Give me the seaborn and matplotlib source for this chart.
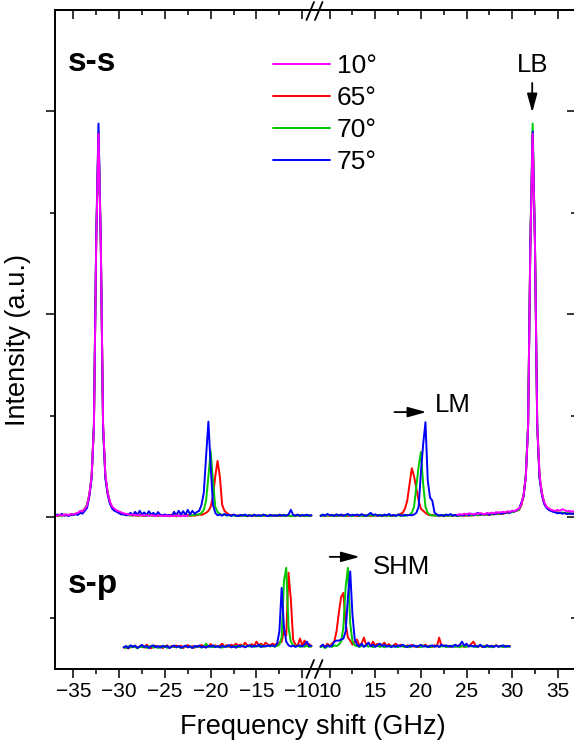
import numpy as np
import matplotlib
matplotlib.use("Agg")
import matplotlib.pyplot as plt
import seaborn as sns
from matplotlib.lines import Line2D
from matplotlib.ticker import FixedLocator

# ---------------------------------------------------------------------------
# Brillouin spectra, intensity in arbitrary units (s-s baseline at 0).
# Channels are 0.25 GHz apart; each row below covers 2 GHz (8 channels).
# ---------------------------------------------------------------------------
STEP = 0.25
ss_left_start, ss_right_start = -37.0, 9.0      # s-s: -37 ... -9 and 9 ... 37 GHz
sp_left_start, sp_right_start = -29.5, 9.0      # s-p: -29.5 ... -9 and 9 ... 29.75 GHz
m10_left_start, m10_right_start = -37.0, 24.0   # 10 deg run only covers the LB region

angles = ["10°", "65°", "70°", "75°"]
colors = {"10°": "#ff00ff", "65°": "#ff0000", "70°": "#00c800", "75°": "#0000ff"}

# ---- s-s, anti-Stokes side (negative shift) ----
ss_left_65 = [
    0.008, 0.004, 0.010, 0.006, 0.012, 0.007, 0.010, 0.013,   # -37
    0.011, 0.015, 0.018, 0.025, 0.030, 0.040, 0.060, 0.110,   # -35
    0.200, 0.450, 1.350, 1.890, 1.350, 0.450, 0.200, 0.120,   # -33
    0.070, 0.045, 0.035, 0.030, 0.022, 0.018, 0.012, 0.010,   # -31
    0.008, 0.012, 0.006, 0.009, 0.005, 0.011, 0.007, 0.004,   # -29
    0.009, 0.006, 0.012, 0.005, 0.008, 0.004, 0.010, 0.006,   # -27
    0.004, 0.009, 0.005, 0.011, 0.006, 0.003, 0.008, 0.005,   # -25
    0.007, 0.004, 0.010, 0.005, 0.008, 0.006, 0.009, 0.012,   # -23
    0.010, 0.015, 0.020, 0.030, 0.050, 0.100, 0.200, 0.276,   # -21
    0.200, 0.060, 0.030, 0.020, 0.012, 0.008, 0.010, 0.005,   # -19
    0.008, 0.004, 0.010, 0.006, 0.003, 0.009, 0.005, 0.007,   # -17
    0.004, 0.008, 0.005, 0.010, 0.006, 0.004, 0.009, 0.006,   # -15
    0.005, 0.008, 0.004, 0.007, 0.010, 0.005, 0.008, 0.004,   # -13
    0.007, 0.005, 0.009, 0.004, 0.008, 0.006, 0.010, 0.005,   # -11
    0.007]                                                     # -9
ss_left_70 = [
    0.006, 0.010, 0.005, 0.009, 0.007, 0.012, 0.008, 0.011,
    0.014, 0.012, 0.020, 0.022, 0.028, 0.040, 0.060, 0.110,
    0.200, 0.460, 1.360, 1.900, 1.340, 0.440, 0.200, 0.120,
    0.070, 0.046, 0.033, 0.028, 0.020, 0.016, 0.013, 0.009,
    0.010, 0.006, 0.011, 0.007, 0.009, 0.005, 0.010, 0.006,
    0.005, 0.010, 0.007, 0.004, 0.011, 0.006, 0.008, 0.005,
    0.009, 0.005, 0.007, 0.004, 0.010, 0.006, 0.005, 0.009,
    0.006, 0.008, 0.005, 0.009, 0.007, 0.010, 0.012, 0.012,
    0.020, 0.035, 0.080, 0.200, 0.325, 0.180, 0.050, 0.025,
    0.015, 0.010, 0.012, 0.006, 0.009, 0.005, 0.008, 0.004,
    0.007, 0.005, 0.009, 0.004, 0.006, 0.010, 0.005, 0.008,
    0.006, 0.004, 0.008, 0.005, 0.009, 0.006, 0.004, 0.007,
    0.009, 0.005, 0.006, 0.010, 0.004, 0.008, 0.006, 0.005,
    0.004, 0.008, 0.006, 0.009, 0.005, 0.007, 0.004, 0.008,
    0.006]
ss_left_75 = [
    0.005, 0.012, 0.008, 0.015, 0.006, 0.010, 0.004, 0.012,
    0.009, 0.014, 0.010, 0.020, 0.016, 0.030, 0.045, 0.100,
    0.190, 0.450, 1.380, 1.940, 1.360, 0.440, 0.190, 0.110,
    0.065, 0.040, 0.030, 0.025, 0.018, 0.012, 0.015, 0.008,
    0.012, 0.020, 0.008, 0.025, 0.010, 0.030, 0.012, 0.022,
    0.009, 0.028, 0.012, 0.020, 0.006, 0.024, 0.010, 0.008,
    0.012, 0.006, 0.010, 0.004, 0.025, 0.008, 0.030, 0.012,
    0.028, 0.010, 0.035, 0.012, 0.030, 0.015, 0.025, 0.030,
    0.060, 0.120, 0.300, 0.470, 0.250, 0.060, 0.020, 0.008,
    0.012, 0.006, 0.015, 0.008, 0.010, 0.005, 0.012, 0.007,
    0.004, 0.010, 0.006, 0.012, 0.005, 0.008, 0.004, 0.011,
    0.006, 0.009, 0.005, 0.012, 0.007, 0.004, 0.010, 0.006,
    0.008, 0.005, 0.011, 0.006, 0.009, 0.006, 0.012, 0.035,
    0.010, 0.006, 0.012, 0.005, 0.009, 0.007, 0.011, 0.006,
    0.008]
ss_left_10 = [
    0.008, 0.006, 0.011, 0.007, 0.010, 0.012, 0.009, 0.014,
    0.012, 0.017, 0.020, 0.030, 0.026, 0.040, 0.055, 0.110,
    0.200, 0.450, 1.350, 1.890, 1.350, 0.460, 0.210, 0.120,
    0.075, 0.050, 0.040, 0.032, 0.027, 0.022, 0.018, 0.015,
    0.013, 0.010, 0.012, 0.008, 0.010, 0.007, 0.009, 0.006,
    0.008, 0.005, 0.009, 0.006, 0.004, 0.008, 0.005, 0.007,
    0.004, 0.007, 0.003, 0.006, 0.004, 0.008, 0.005, 0.003,
    0.006, 0.004, 0.005]

# ---- s-s, Stokes side (positive shift) ----
ss_right_65 = [
    0.006, 0.010, 0.004, 0.008, 0.005, 0.009, 0.006, 0.004,   # 9
    0.008, 0.005, 0.010, 0.006, 0.004, 0.009, 0.005, 0.007,   # 11
    0.004, 0.008, 0.006, 0.010, 0.005, 0.007, 0.004, 0.009,   # 13
    0.006, 0.005, 0.009, 0.004, 0.008, 0.006, 0.010, 0.005,   # 15
    0.007, 0.006, 0.010, 0.015, 0.020, 0.040, 0.080, 0.160,   # 17
    0.240, 0.200, 0.140, 0.080, 0.040, 0.030, 0.020, 0.012,   # 19
    0.008, 0.010, 0.006, 0.009, 0.005, 0.008, 0.004, 0.007,   # 21
    0.006, 0.009, 0.005, 0.008, 0.010, 0.006, 0.009, 0.005,   # 23
    0.008, 0.006, 0.010, 0.007, 0.012, 0.008, 0.010, 0.014,   # 25
    0.010, 0.013, 0.009, 0.015, 0.012, 0.016, 0.013, 0.018,   # 27
    0.015, 0.020, 0.018, 0.022, 0.025, 0.028, 0.030, 0.035,   # 29
    0.055, 0.100, 0.200, 0.450, 1.350, 1.880, 1.350, 0.450,   # 31
    0.200, 0.120, 0.070, 0.050, 0.040, 0.032, 0.028, 0.025,   # 33
    0.022, 0.020, 0.018, 0.020, 0.016, 0.018, 0.015, 0.017,   # 35
    0.015]                                                     # 37
ss_right_70 = [
    0.008, 0.005, 0.009, 0.006, 0.010, 0.004, 0.008, 0.006,
    0.005, 0.009, 0.006, 0.004, 0.010, 0.007, 0.005, 0.008,
    0.009, 0.005, 0.007, 0.004, 0.008, 0.006, 0.010, 0.005,
    0.007, 0.010, 0.005, 0.008, 0.004, 0.009, 0.006, 0.005,
    0.008, 0.005, 0.009, 0.006, 0.008, 0.005, 0.009, 0.010,
    0.020, 0.050, 0.150, 0.250, 0.320, 0.160, 0.050, 0.020,
    0.010, 0.006, 0.009, 0.005, 0.008, 0.006, 0.010, 0.005,
    0.008, 0.005, 0.009, 0.007, 0.004, 0.008, 0.006, 0.010,
    0.007, 0.011, 0.006, 0.009, 0.012, 0.008, 0.013, 0.010,
    0.014, 0.011, 0.016, 0.012, 0.015, 0.018, 0.014, 0.020,
    0.017, 0.022, 0.020, 0.025, 0.023, 0.028, 0.032, 0.036,
    0.060, 0.110, 0.210, 0.460, 1.380, 1.940, 1.370, 0.460,
    0.200, 0.120, 0.070, 0.048, 0.040, 0.033, 0.027, 0.024,
    0.021, 0.019, 0.022, 0.018, 0.020, 0.016, 0.018, 0.015,
    0.016]
ss_right_75 = [
    0.004, 0.012, 0.006, 0.015, 0.008, 0.010, 0.005, 0.013,
    0.007, 0.012, 0.005, 0.010, 0.015, 0.006, 0.011, 0.008,
    0.012, 0.006, 0.014, 0.008, 0.005, 0.012, 0.020, 0.009,
    0.013, 0.006, 0.010, 0.005, 0.012, 0.007, 0.015, 0.006,
    0.010, 0.005, 0.012, 0.008, 0.006, 0.011, 0.007, 0.010,
    0.008, 0.012, 0.020, 0.050, 0.220, 0.360, 0.467, 0.180,
    0.095, 0.080, 0.020, 0.012, 0.006, 0.010, 0.005, 0.012,
    0.008, 0.014, 0.006, 0.010, 0.005, 0.012, 0.007, 0.010,
    0.014, 0.008, 0.016, 0.010, 0.012, 0.020, 0.011, 0.015,
    0.012, 0.018, 0.010, 0.020, 0.014, 0.017, 0.022, 0.015,
    0.020, 0.018, 0.025, 0.020, 0.030, 0.026, 0.035, 0.040,
    0.070, 0.100, 0.200, 0.450, 1.360, 1.900, 1.350, 0.450,
    0.190, 0.110, 0.065, 0.045, 0.035, 0.030, 0.025, 0.022,
    0.018, 0.020, 0.016, 0.019, 0.014, 0.017, 0.015, 0.016,
    0.014]
ss_right_10 = [
    0.010, 0.014, 0.011, 0.016,                                # 24
    0.012, 0.018, 0.014, 0.012, 0.017, 0.014, 0.019, 0.016,   # 25
    0.014, 0.019, 0.017, 0.021, 0.018, 0.024, 0.020, 0.023,   # 27
    0.025, 0.022, 0.028, 0.025, 0.031, 0.029, 0.035, 0.042,   # 29
    0.060, 0.110, 0.200, 0.450, 1.350, 1.890, 1.350, 0.460,   # 31
    0.210, 0.120, 0.075, 0.052, 0.042, 0.036, 0.032, 0.030,   # 33
    0.035, 0.030, 0.038, 0.033, 0.028, 0.030, 0.026, 0.028,   # 35
    0.025]                                                     # 37

# ---- s-p (intensities relative to their own baseline) ----
sp_left_65 = [
    0.000, 0.005, -0.004, 0.008, 0.002, 0.010, -0.002, 0.006,   # -29.5
    0.012, 0.000, 0.015, 0.004, -0.003, 0.006, 0.010, 0.002,    # -27.5
    0.008, -0.002, 0.005, 0.012, 0.000, 0.009, 0.003, 0.011,    # -25.5
    0.004, 0.010, -0.002, 0.007, 0.013, 0.002, 0.008, 0.000,    # -23.5
    0.009, 0.004, 0.014, 0.002, 0.010, 0.006, 0.018, 0.003,     # -21.5
    0.012, 0.005, 0.010, 0.020, 0.006, 0.013, 0.004, 0.015,     # -19.5
    0.008, 0.020, 0.010, 0.016, 0.006, 0.025, 0.012, 0.010,     # -17.5
    0.018, 0.008, 0.030, 0.012, 0.020, 0.010, 0.025, 0.015,     # -15.5
    0.012, 0.020, 0.015, 0.018, 0.025, 0.030, 0.085, 0.060,     # -13.5
    0.370, 0.240, 0.040, 0.015, 0.010, 0.045, 0.012, 0.035,     # -11.5
    0.010, 0.018, 0.006]                                        # -9.5
sp_left_70 = [
    0.004, -0.002, 0.007, 0.001, 0.009, 0.003, -0.003, 0.006,
    0.002, 0.008, -0.001, 0.005, 0.010, 0.000, 0.006, -0.002,
    0.007, 0.002, 0.009, -0.001, 0.005, 0.003, 0.008, 0.001,
    0.006, -0.002, 0.004, 0.009, 0.002, 0.007, 0.000, 0.005,
    0.003, 0.008, 0.000, 0.006, 0.020, 0.004, 0.007, 0.002,
    0.009, 0.003, 0.006, 0.000, 0.008, 0.004, 0.010, 0.002,
    0.005, 0.009, 0.003, 0.007, 0.012, 0.004, 0.008, 0.006,
    0.010, 0.004, 0.009, 0.006, 0.012, 0.005, 0.008, 0.011,
    0.006, 0.010, 0.005, 0.009, 0.015, 0.050, 0.330, 0.394,
    0.100, 0.030, 0.012, 0.006, 0.010, 0.004, 0.008, 0.005,
    0.009, 0.004, 0.007]
sp_left_75 = [
    0.002, 0.008, -0.002, 0.012, 0.004, 0.010, -0.001, 0.006,
    0.014, 0.003, 0.009, -0.002, 0.007, 0.012, 0.002, 0.008,
    0.000, 0.010, 0.004, 0.008, -0.002, 0.006, 0.011, 0.003,
    0.008, 0.000, 0.005, 0.010, 0.002, 0.007, -0.002, 0.009,
    0.004, 0.011, 0.002, 0.007, 0.000, 0.009, 0.005, 0.012,
    0.003, 0.008, 0.001, 0.010, 0.004, 0.006, 0.013, 0.002,
    0.007, 0.000, 0.010, 0.005, 0.009, 0.002, 0.008, 0.012,
    0.004, 0.010, 0.006, 0.015, 0.003, 0.009, 0.006, 0.011,
    0.008, 0.012, 0.006, 0.020, 0.080, 0.295, 0.100, 0.030,
    0.012, 0.006, 0.010, 0.004, 0.009, 0.012, 0.006, 0.015,
    0.030, 0.008, 0.010]
sp_right_65 = [
    0.005, 0.015, 0.003, 0.020, 0.008, 0.020, 0.030, 0.080,    # 9
    0.170, 0.250, 0.270, 0.120, 0.050, 0.035, 0.015, 0.030,    # 11
    0.040, 0.010, 0.020, 0.050, 0.012, 0.025, 0.008, 0.030,    # 13
    0.010, 0.020, 0.006, 0.015, 0.025, 0.008, 0.018, 0.004,    # 15
    0.012, 0.020, 0.006, 0.015, 0.010, 0.004, 0.012, 0.007,    # 17
    0.014, 0.005, 0.010, 0.003, 0.012, 0.008, 0.015, 0.006,    # 19
    0.010, 0.004, 0.012, 0.006, 0.050, 0.008, 0.012, 0.005,    # 21
    0.010, 0.003, 0.008, 0.012, 0.005, 0.015, 0.007, 0.004,    # 23
    0.012, 0.006, 0.018, 0.030, 0.010, 0.005, 0.009, 0.003,    # 25
    0.008, 0.012, 0.004, 0.010, 0.006, 0.013, 0.005, 0.009,    # 27
    0.004, 0.010, 0.006, 0.008]                                # 29
sp_right_70 = [
    0.003, 0.008, -0.002, 0.006, 0.010, 0.004, 0.012, 0.008,
    0.015, 0.030, 0.100, 0.300, 0.394, 0.120, 0.030, 0.012,
    0.008, 0.004, 0.010, 0.006, 0.012, 0.005, 0.009, 0.003,
    0.007, 0.011, 0.004, 0.008, 0.002, 0.009, 0.006, 0.010,
    0.005, 0.008, 0.003, 0.010, 0.006, 0.004, 0.009, 0.002,
    0.007, 0.010, 0.004, 0.008, 0.003, 0.011, 0.005, 0.007,
    0.002, 0.008, 0.005, 0.010, 0.004, 0.006, 0.009, 0.003,
    0.008, 0.005, 0.011, 0.004, 0.007, 0.002, 0.009, 0.006,
    0.004, 0.010, 0.006, 0.009, 0.003, 0.007, 0.012, 0.005,
    0.009, 0.004, 0.008, 0.002, 0.006, 0.010, 0.005, 0.007,
    0.003, 0.008, 0.005, 0.006]
sp_right_75 = [
    0.006, 0.015, 0.002, 0.012, 0.005, 0.010, 0.030, 0.035,
    0.035, 0.040, 0.045, 0.080, 0.250, 0.376, 0.160, 0.040,
    0.015, 0.006, 0.020, 0.004, 0.012, 0.025, 0.007, 0.015,
    0.004, 0.012, 0.020, 0.008, 0.015, 0.005, 0.010, 0.003,
    0.010, 0.004, 0.012, 0.006, 0.015, 0.008, 0.003, 0.011,
    0.006, 0.012, 0.004, 0.009, 0.014, 0.005, 0.010, 0.003,
    0.008, 0.012, 0.005, 0.010, 0.004, 0.015, 0.007, 0.012,
    0.005, 0.010, 0.004, 0.015, 0.008, 0.012, 0.030, 0.010,
    0.020, 0.006, 0.012, 0.005, 0.010, 0.004, 0.015, 0.006,
    0.003, 0.012, 0.006, 0.009, 0.004, 0.010, 0.005, 0.008,
    0.012, 0.004, 0.009, 0.006]

SP_OFFSET = -0.645   # vertical offset of the s-p spectra below the s-s ones


def channels(start, values):
    """Frequency (GHz) of each channel of a run starting at `start`."""
    return start + STEP * np.arange(len(values))


# ---------------------------------------------------------------------------
sns.set_theme(style="ticks")
plt.rcParams["font.family"] = ["Liberation Sans", "DejaVu Sans"]
plt.rcParams["axes.unicode_minus"] = True
for k in ("text.color", "axes.labelcolor", "xtick.color", "ytick.color",
          "axes.edgecolor", "xtick.labelcolor", "ytick.labelcolor"):
    plt.rcParams[k] = "black"

W, H = 574, 750
fig = plt.figure(figsize=(W / 100, H / 100), dpi=100)


def rect(x0, y0, x1, y1):
    return [x0 / W, 1 - y1 / H, (x1 - x0) / W, (y1 - y0) / H]


axL = fig.add_axes(rect(55, 10, 316, 669))
axR = fig.add_axes(rect(316, 10, 576, 669), sharey=axL)

LW = 1.4
# draw order: 65, 70, 75 underneath, 10 deg on top
left_ss = {"65°": ss_left_65, "70°": ss_left_70, "75°": ss_left_75}
right_ss = {"65°": ss_right_65, "70°": ss_right_70, "75°": ss_right_75}
left_sp = {"65°": sp_left_65, "70°": sp_left_70, "75°": sp_left_75}
right_sp = {"65°": sp_right_65, "70°": sp_right_70, "75°": sp_right_75}

for key in ["65°", "70°", "75°"]:
    c = colors[key]
    sns.lineplot(x=channels(ss_left_start, left_ss[key]), y=left_ss[key],
                 ax=axL, color=c, lw=LW, legend=False)
    sns.lineplot(x=channels(ss_right_start, right_ss[key]), y=right_ss[key],
                 ax=axR, color=c, lw=LW, legend=False)
    sns.lineplot(x=channels(sp_left_start, left_sp[key]),
                 y=np.array(left_sp[key]) + SP_OFFSET,
                 ax=axL, color=c, lw=LW, legend=False)
    sns.lineplot(x=channels(sp_right_start, right_sp[key]),
                 y=np.array(right_sp[key]) + SP_OFFSET,
                 ax=axR, color=c, lw=LW, legend=False)

sns.lineplot(x=channels(m10_left_start, ss_left_10), y=ss_left_10,
             ax=axL, color=colors["10°"], lw=LW, legend=False)
sns.lineplot(x=channels(m10_right_start, ss_right_10), y=ss_right_10,
             ax=axR, color=colors["10°"], lw=LW, legend=False)

# ---- axes, broken between -8.5 and 8.5 GHz ----
axL.set_xlim(-37, -8.5)
axR.set_xlim(8.5, 37)
axL.set_ylim(-0.75, 2.5)
for ax in (axL, axR):
    ax.set_xlabel("")
    ax.set_ylabel("")

SPINE_W = 1.4
TICK_W = 1.1
MAJ, MIN = 6.5, 3.6

for ax in (axL, axR):
    for s in ax.spines.values():
        s.set_linewidth(SPINE_W)
        s.set_color("black")
axL.spines["right"].set_visible(False)
axR.spines["left"].set_visible(False)

left_major = [-35, -30, -25, -20, -15, -10]
left_minor = [-32.5, -27.5, -22.5, -17.5, -12.5]
right_major = [10, 15, 20, 25, 30, 35]
right_minor = [12.5, 17.5, 22.5, 27.5, 32.5]

for ax, maj, mnr in ((axL, left_major, left_minor), (axR, right_major, right_minor)):
    ax.set_xticks(maj)
    ax.set_xticklabels([f"{v:d}".replace("-", "\u2212") for v in maj])
    ax.xaxis.set_minor_locator(FixedLocator(mnr))
    ax.tick_params(axis="x", which="both", direction="out", bottom=True, top=False,
                   width=TICK_W, color="black", labelsize=15, pad=3,
                   labelcolor="black")
    ax.tick_params(axis="x", which="major", length=MAJ)
    ax.tick_params(axis="x", which="minor", length=MIN)
    # inward ticks on the top edge
    sec = ax.secondary_xaxis("top")
    sec.set_xticks(maj)
    sec.xaxis.set_minor_locator(FixedLocator(mnr))
    sec.tick_params(axis="x", which="both", direction="in", labeltop=False,
                    width=TICK_W, color="black")
    sec.tick_params(axis="x", which="major", length=MAJ)
    sec.tick_params(axis="x", which="minor", length=MIN)
    sec.spines["top"].set_linewidth(SPINE_W)

axL.set_yticks([0, 1, 2])
axL.yaxis.set_minor_locator(FixedLocator([-0.5, 0.5, 1.5]))
axL.tick_params(axis="y", which="both", left=True, right=False, direction="out",
                labelleft=False, width=TICK_W, color="black")
axL.tick_params(axis="y", which="major", length=MAJ)
axL.tick_params(axis="y", which="minor", length=MIN)
axR.tick_params(axis="y", which="both", left=False, right=True, direction="in",
                labelleft=False, labelright=False, width=TICK_W, color="black")
axR.tick_params(axis="y", which="major", length=MAJ)
axR.tick_params(axis="y", which="minor", length=MIN)

# break marks on the top and bottom edges
for yc in (11, 669):
    for x0 in (306.5, 315.0):
        fig.add_artist(Line2D([x0 / W, (x0 + 7.5) / W],
                              [1 - (yc + 9) / H, 1 - (yc - 9) / H],
                              transform=fig.transFigure, color="black", lw=1.3))

# ---- labels ----
fig.text(313 / W, 1 - 727 / H, "Frequency shift (GHz)", ha="center", va="center",
         fontsize=19.5, color="black")
fig.text(18 / W, 1 - 340 / H, "Intensity (a.u.)", ha="center", va="center",
         rotation=90, fontsize=19.5, color="black")

axL.text(-35.6, 2.24, "s-s", fontsize=24, fontweight="bold", ha="left", va="center")
axL.text(-35.6, -0.335, "s-p", fontsize=24, fontweight="bold", ha="left", va="center")

arrow = dict(arrowstyle="-|>,head_length=0.8,head_width=0.22", color="black",
             lw=1.3, mutation_scale=14, shrinkA=0, shrinkB=0)
axR.annotate("", xy=(32.2, 1.995), xytext=(32.2, 2.14), arrowprops=arrow)
axR.text(32.2, 2.23, "LB", ha="center", va="center", fontsize=18.5)
axR.annotate("", xy=(20.6, 0.517), xytext=(17.1, 0.517), arrowprops=arrow)
axR.text(21.5, 0.55, "LM", ha="left", va="center", fontsize=18.5)
axR.annotate("", xy=(13.3, -0.197), xytext=(10.0, -0.197), arrowprops=arrow)
axR.text(14.7, -0.248, "SHM", ha="left", va="center", fontsize=18.5)

handles = [Line2D([], [], color=colors[a], lw=LW) for a in angles]
fig.legend(handles, angles, loc="upper left", bbox_to_anchor=(273 / W, 1 - 54 / H),
           frameon=False, fontsize=19, handlelength=2.15, handletextpad=0.28,
           labelspacing=0.30, borderpad=0, borderaxespad=0)

fig.savefig("out.png", dpi=100)
